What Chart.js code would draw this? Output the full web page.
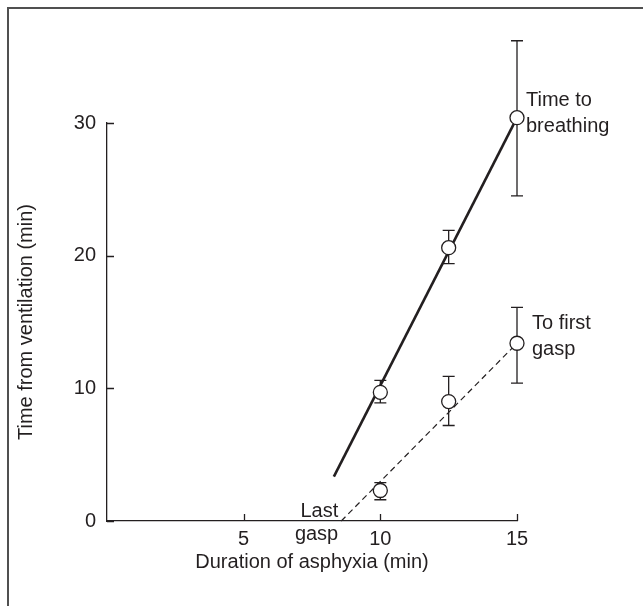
<!DOCTYPE html>
<html>
<head>
<meta charset="utf-8">
<script src="https://cdn.jsdelivr.net/npm/chart.js@4.4.1/dist/chart.umd.min.js"></script>
<style>
  html, body { margin: 0; padding: 0; background: #fff; }
  #wrap { position: relative; width: 643px; height: 606px; overflow: hidden; }
  #frame { position: absolute; left: 7px; top: 7px; right: -5px; bottom: -5px;
           border-left: 2px solid #505050; border-top: 2px solid #505050; }
  canvas { position: absolute; left: 0; top: 0; }
</style>
</head>
<body>
<div id="wrap">
  <div id="frame"></div>
  <canvas id="chart" width="643" height="606"></canvas>
</div>
<script>
// data
const durations = [10, 12.5, 15];
const breathingMean = [9.7, 20.6, 30.4];
const breathingLow = [8.9, 19.4, 24.5];
const breathingHigh = [10.6, 21.9, 36.2];
const gaspMean = [2.3, 9.0, 13.4];
const gaspLow = [1.6, 7.2, 10.4];
const gaspHigh = [2.9, 10.9, 16.1];
// regression lines (end points)
const breathingFitX = [8.3, 15];
const breathingFitY = [3.35, 30.4];
const gaspFitX = [8.57, 15];
const gaspFitY = [0, 13.4];
const xTicks = [5, 10, 15];
const yTicks = [0, 10, 20, 30];

const ink = '#231f20';
const fontFamily = '"Liberation Sans", Arial, sans-serif';

function pts(xs, ys) {
    return xs.map((x, i) => ({ x: x, y: ys[i] }));
}

// error bars drawn with the chart scales
const errorBars = {
    id: 'errorBars',
    beforeDatasetsDraw(chart) {
        const { ctx, scales: { x, y } } = chart;
        ctx.save();
        ctx.strokeStyle = ink;
        ctx.lineWidth = 1.3;
        [[breathingLow, breathingHigh], [gaspLow, gaspHigh]].forEach(([lo, hi]) => {
            durations.forEach((d, i) => {
                const px = x.getPixelForValue(d);
                const y1 = y.getPixelForValue(lo[i]);
                const y2 = y.getPixelForValue(hi[i]);
                ctx.beginPath();
                ctx.moveTo(px, y1); ctx.lineTo(px, y2);
                ctx.moveTo(px - 6, y1); ctx.lineTo(px + 6, y1);
                ctx.moveTo(px - 6, y2); ctx.lineTo(px + 6, y2);
                ctx.stroke();
            });
        });
        ctx.restore();
    }
};

// inward tick marks + text labels
const decorations = {
    id: 'decorations',
    afterDraw(chart) {
        const { ctx, scales: { x, y } } = chart;
        ctx.save();
        ctx.strokeStyle = ink;
        ctx.lineWidth = 1.3;
        ctx.beginPath();
        yTicks.forEach(v => {
            const py = Math.round(y.getPixelForValue(v)) + 0.5;
            ctx.moveTo(x.left, py); ctx.lineTo(x.left + 7, py);
        });
        xTicks.forEach(v => {
            const px = Math.round(x.getPixelForValue(v)) + 0.5;
            ctx.moveTo(px, y.bottom); ctx.lineTo(px, y.bottom - 7);
        });
        ctx.stroke();

        ctx.fillStyle = ink;
        ctx.font = '20px ' + fontFamily;
        ctx.textBaseline = 'middle';
        ctx.textAlign = 'left';
        let px = x.getPixelForValue(15);
        let py = y.getPixelForValue(breathingMean[2]);
        ctx.fillText('Time to', px + 9, py - 17);
        ctx.fillText('breathing', px + 9, py + 9);
        py = y.getPixelForValue(gaspMean[2]);
        ctx.fillText('To first', px + 15, py - 20);
        ctx.fillText('gasp', px + 15, py + 6);
        ctx.textAlign = 'right';
        px = x.getPixelForValue(gaspFitX[0]);
        py = y.getPixelForValue(0);
        ctx.fillText('Last', px - 3, py - 10);
        ctx.fillText('gasp', px - 3, py + 13);
        ctx.restore();
    }
};

const marker = {
    type: 'scatter',
    showLine: false,
    pointRadius: 7,
    pointBackgroundColor: '#ffffff',
    pointBorderColor: ink,
    pointBorderWidth: 1.3,
    clip: false
};

new Chart(document.getElementById('chart'), {
    type: 'scatter',
    data: {
        datasets: [
            Object.assign({ label: 'Time to breathing', data: pts(durations, breathingMean) }, marker),
            Object.assign({ label: 'To first gasp', data: pts(durations, gaspMean) }, marker),
            {
                label: 'breathing fit', type: 'line', data: pts(breathingFitX, breathingFitY),
                borderColor: ink, borderWidth: 2.6, pointRadius: 0, fill: false, clip: false
            },
            {
                label: 'gasp fit', type: 'line', data: pts(gaspFitX, gaspFitY),
                borderColor: ink, borderWidth: 1.2, borderDash: [6, 4], pointRadius: 0, fill: false, clip: false
            }
        ]
    },
    options: {
        responsive: false,
        animation: false,
        events: [],
        layout: { padding: { left: 0, top: 123, right: 126, bottom: 0 } },
        plugins: { legend: { display: false }, tooltip: { enabled: false } },
        scales: {
            x: {
                type: 'linear', min: 0, max: 15,
                afterBuildTicks: s => { s.ticks = xTicks.map(v => ({ value: v })); },
                afterFit: s => { s.height = 85; },
                grid: { display: false, drawTicks: false },
                border: { display: true, color: ink, width: 1.3 },
                ticks: { color: ink, font: { family: fontFamily, size: 20 }, padding: 6, maxRotation: 0 },
                title: { display: true, text: 'Duration of asphyxia (min)', color: ink,
                         font: { family: fontFamily, size: 20 }, padding: { top: 0, bottom: 32 } }
            },
            y: {
                type: 'linear', min: 0, max: 30,
                afterBuildTicks: s => { s.ticks = yTicks.map(v => ({ value: v })); },
                afterFit: s => { s.width = 107; },
                grid: { display: false, drawTicks: false },
                border: { display: true, color: ink, width: 1.3 },
                ticks: { color: ink, font: { family: fontFamily, size: 20 }, padding: 11 },
                title: { display: true, text: 'Time from ventilation (min)', color: ink,
                         font: { family: fontFamily, size: 20 }, padding: { top: 14, bottom: 0 } }
            }
        }
    },
    plugins: [errorBars, decorations]
});
</script>
</body>
</html>
